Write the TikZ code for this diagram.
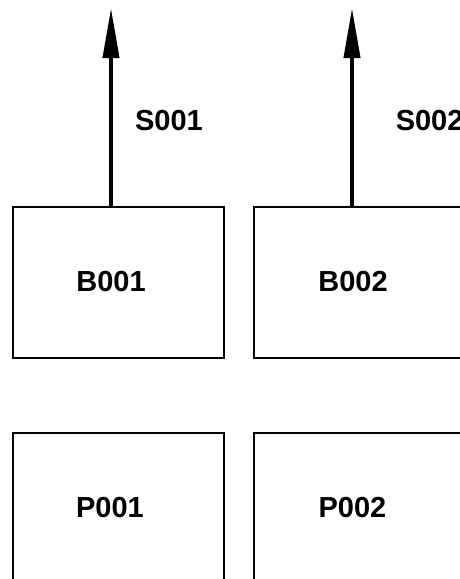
\documentclass[tikz,border=0pt]{standalone}
\usepackage{fontspec}
\setmainfont{Liberation Sans}
\usetikzlibrary{arrows.meta}

\begin{document}
\begin{tikzpicture}[x=0.75pt,y=0.75pt,yscale=-1,xscale=1,
  blk/.style={draw,line width=1.5pt,minimum width=158.25pt,minimum height=113.25pt,inner sep=0pt},
  lbl/.style={inner sep=0.75pt,font=\fontsize{21.75}{26}\selectfont\bfseries},
  sig/.style={line width=3pt,-{Triangle[length=37.5pt,width=12pt]}}]
%set diagram frame: 460 x 579
\clip (0,0) rectangle (460,579);

%Boxes
\node[blk] (b001) at (118.5,282.5) {};
\node[blk] (b002) at (359.5,282.5) {};
\node[blk] (p001) at (118.5,508.5) {};
\node[blk] (p002) at (359.5,508.5) {};

% Text Node
\node[lbl] (b001l) at (111,281.5) {B001};
% Text Node
\node[lbl] (b002l) at (353,281.5) {B002};
% Text Node
\node[lbl] (p001l) at (110,507.5) {P001};
% Text Node
\node[lbl] (p002l) at (352.5,507.5) {P002};

%Signals
\coordinate (s001end) at (111,8);
\coordinate (s002end) at (352,8);
\draw[sig] (b001.north -| s001end) -- (s001end);
\draw[sig] (b002.north -| s002end) -- (s002end);

% Text Node
\node[lbl] (s001l) at (169,121) {S001};
% Text Node
\node[lbl,anchor=west] (s002l) at (394.5,121) {S002};

\end{tikzpicture}
\end{document}
